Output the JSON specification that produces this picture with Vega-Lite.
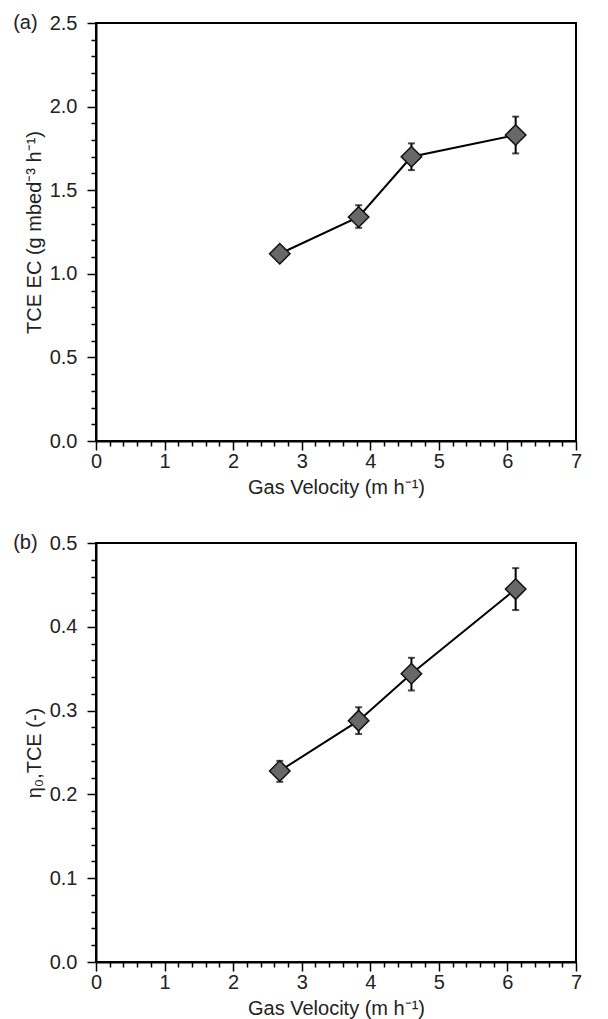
{
  "$schema": "https://vega.github.io/schema/vega-lite/v6.json",
  "padding": {"left": 12, "top": 12, "right": 20, "bottom": 0},
  "background": "white",
  "config": {
    "font": "Liberation Sans",
    "view": {"stroke": "black", "strokeWidth": 2},
    "axis": {
      "domainColor": "black", "domainWidth": 2,
      "tickColor": "black", "tickWidth": 1.5,
      "labelFont": "Liberation Sans", "labelFontSize": 20, "labelColor": "#222",
      "titleFont": "Liberation Sans", "titleFontSize": 20, "titleFontWeight": "normal", "titleColor": "#222",
      "grid": false, "labelOverlap": false, "labelBound": false, "labelFlush": false
    },
    "title": {"font": "Liberation Sans", "fontSize": 20, "fontWeight": "normal", "color": "#222", "anchor": "start", "frame": "bounds", "baseline": "middle", "offset": 0, "dy": 24, "dx": -11}
  },
  "datasets": {
    "ec": [
      {"velocity": 2.68, "ec": 1.12, "lo": 1.11, "hi": 1.13},
      {"velocity": 3.83, "ec": 1.34, "lo": 1.275, "hi": 1.41},
      {"velocity": 4.6, "ec": 1.70, "lo": 1.62, "hi": 1.78},
      {"velocity": 6.12, "ec": 1.83, "lo": 1.72, "hi": 1.94}
    ],
    "eta": [
      {"velocity": 2.68, "eta": 0.228, "lo": 0.215, "hi": 0.240},
      {"velocity": 3.83, "eta": 0.288, "lo": 0.272, "hi": 0.304},
      {"velocity": 4.6, "eta": 0.344, "lo": 0.324, "hi": 0.363},
      {"velocity": 6.12, "eta": 0.445, "lo": 0.420, "hi": 0.470}
    ]
  },
  "spacing": 34,
  "vconcat": [
    {
      "title": {"text": "(a)"},
      "width": 480,
      "height": 418,
      "data": {"name": "ec"},
      "encoding": {
        "x": {
          "field": "velocity", "type": "quantitative",
          "scale": {"domain": [0, 7], "nice": false, "zero": false},
          "axis": {
            "title": "Gas Velocity (m h⁻¹)", "titlePadding": 6, "labelPadding": 1,
            "values": [0,0.2,0.4,0.6,0.8,1,1.2,1.4,1.6,1.8,2,2.2,2.4,2.6,2.8,3,3.2,3.4,3.6,3.8,4,4.2,4.4,4.6,4.8,5,5.2,5.4,5.6,5.8,6,6.2,6.4,6.6,6.8,7],
            "labelExpr": "abs(datum.value - round(datum.value)) < 1e-6 ? format(datum.value, 'd') : ''",
            "tickSize": {"condition": {"test": "abs(datum.value - round(datum.value)) < 1e-6", "value": 9}, "value": 5}
          }
        },
        "y": {
          "field": "ec", "type": "quantitative",
          "scale": {"domain": [0, 2.5], "nice": false},
          "axis": {
            "title": "TCE EC (g mbed⁻³ h⁻¹)", "titlePadding": 5, "labelPadding": 10,
            "values": [0,0.1,0.2,0.3,0.4,0.5,0.6,0.7,0.8,0.9,1,1.1,1.2,1.3,1.4,1.5,1.6,1.7,1.8,1.9,2,2.1,2.2,2.3,2.4,2.5],
            "labelExpr": "abs(datum.value*2 - round(datum.value*2)) < 1e-6 ? format(datum.value, '.1f') : ''",
            "tickSize": {"condition": {"test": "abs(datum.value*2 - round(datum.value*2)) < 1e-6", "value": 9}, "value": 5}
          }
        }
      },
      "layer": [
        {"mark": {"type": "line", "color": "black", "strokeWidth": 2}},
        {
          "mark": {"type": "errorbar", "color": "black", "thickness": 2, "size": 7, "ticks": true},
          "encoding": {
            "y": {"field": "lo", "type": "quantitative", "title": "TCE EC (g mbed⁻³ h⁻¹)"},
            "y2": {"field": "hi"}
          }
        },
        {"mark": {"type": "point", "shape": "diamond", "size": 420, "filled": true, "fill": "#686868", "stroke": "#111", "strokeWidth": 1.5, "opacity": 1}}
      ]
    },
    {
      "title": {"text": "(b)"},
      "width": 480,
      "height": 419,
      "data": {"name": "eta"},
      "encoding": {
        "x": {
          "field": "velocity", "type": "quantitative",
          "scale": {"domain": [0, 7], "nice": false, "zero": false},
          "axis": {
            "title": "Gas Velocity (m h⁻¹)", "titlePadding": 6, "labelPadding": 1,
            "values": [0,0.2,0.4,0.6,0.8,1,1.2,1.4,1.6,1.8,2,2.2,2.4,2.6,2.8,3,3.2,3.4,3.6,3.8,4,4.2,4.4,4.6,4.8,5,5.2,5.4,5.6,5.8,6,6.2,6.4,6.6,6.8,7],
            "labelExpr": "abs(datum.value - round(datum.value)) < 1e-6 ? format(datum.value, 'd') : ''",
            "tickSize": {"condition": {"test": "abs(datum.value - round(datum.value)) < 1e-6", "value": 9}, "value": 5}
          }
        },
        "y": {
          "field": "eta", "type": "quantitative",
          "scale": {"domain": [0, 0.5], "nice": false},
          "axis": {
            "title": "η₀,TCE (-)", "titlePadding": 5, "labelPadding": 10,
            "values": [0,0.02,0.04,0.06,0.08,0.1,0.12,0.14,0.16,0.18,0.2,0.22,0.24,0.26,0.28,0.3,0.32,0.34,0.36,0.38,0.4,0.42,0.44,0.46,0.48,0.5],
            "labelExpr": "abs(datum.value*10 - round(datum.value*10)) < 1e-6 ? format(datum.value, '.1f') : ''",
            "tickSize": {"condition": {"test": "abs(datum.value*10 - round(datum.value*10)) < 1e-6", "value": 9}, "value": 5}
          }
        }
      },
      "layer": [
        {"mark": {"type": "line", "color": "black", "strokeWidth": 2}},
        {
          "mark": {"type": "errorbar", "color": "black", "thickness": 2, "size": 7, "ticks": true},
          "encoding": {
            "y": {"field": "lo", "type": "quantitative", "title": "η₀,TCE (-)"},
            "y2": {"field": "hi"}
          }
        },
        {"mark": {"type": "point", "shape": "diamond", "size": 420, "filled": true, "fill": "#686868", "stroke": "#111", "strokeWidth": 1.5, "opacity": 1}}
      ]
    }
  ]
}
